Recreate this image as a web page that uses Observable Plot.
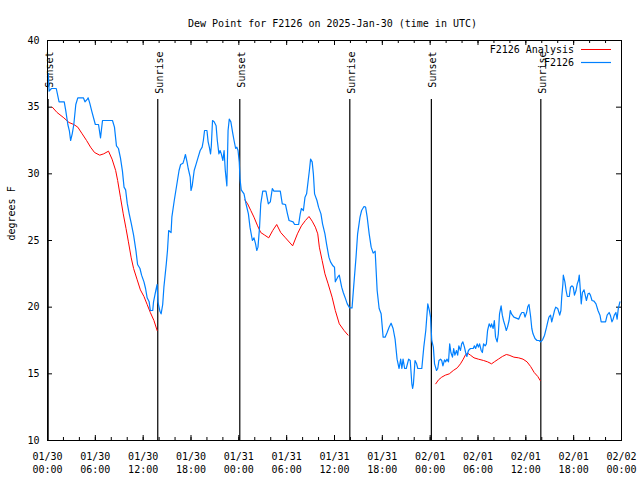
<!DOCTYPE html>
<html><head><meta charset="utf-8">
<script src="https://cdn.jsdelivr.net/npm/d3@7"></script>
<script src="https://cdn.jsdelivr.net/npm/@observablehq/plot@0.6"></script>
<style>body{margin:0;background:#fff;} svg{display:block}</style>
</head><body><div id="chart"></div>
<script>
const title = "Dew Point for F2126 on 2025-Jan-30 (time in UTC)";
const yLabel = "degrees F";
const startUTC = "2025-01-30T00:00:00Z";
const endUTC = "2025-02-02T00:00:00Z";
const yTickValues = [10, 15, 20, 25, 30, 35, 40];
const seriesNames = ["F2126 Analysis", "F2126"];
const seriesColors = ["#ff0000", "#0080ff"];

// Sun events (hours after start)
const sunHours = [0.08, 13.83, 24.12, 37.92, 48.15, 61.88];
const sunLabels = ["Sunset", "Sunrise", "Sunset", "Sunrise", "Sunset", "Sunrise"];

// F2126 observations (hours after start, degrees F)
const obsHours = [0.1,0.2,0.5,1.1,1.45,2.1,2.3,2.55,2.75,2.9,3.1,3.3,3.55,3.8,4.5,4.7,5.0,5.1,5.3,5.55,6.0,6.4,6.65,6.9,8.15,8.4,8.65,8.9,9.15,9.4,9.6,9.8,10.0,10.25,10.5,10.8,11.1,11.3,11.6,11.8,12.1,12.3,12.5,12.75,12.9,13.2,13.3,13.6,13.75,13.85,14.1,14.25,14.45,14.6,14.9,15.05,15.2,15.5,15.6,15.9,16.1,16.3,16.5,16.7,17.0,17.15,17.3,17.5,17.65,17.9,18.0,18.15,18.4,18.65,18.9,19.15,19.4,19.55,19.7,20.0,20.15,20.3,20.45,20.55,20.7,20.9,21.15,21.3,21.5,21.65,21.8,22.0,22.15,22.3,22.5,22.65,22.8,23.0,23.25,23.4,23.6,23.75,23.9,24.05,24.15,24.3,24.65,24.9,25.2,25.4,25.7,25.9,26.1,26.25,26.4,26.6,26.75,27.0,27.4,27.7,27.95,28.2,28.4,29.2,29.45,29.85,30.1,30.3,30.8,31.0,31.5,31.7,31.85,32.1,32.3,32.5,32.7,32.85,33.0,33.2,33.35,33.5,33.8,34.0,34.3,34.5,34.8,35.0,35.3,35.5,35.8,36.0,36.1,36.4,36.6,36.9,37.1,37.4,37.6,37.9,38.2,38.4,38.7,38.9,39.2,39.4,39.7,39.9,40.1,40.35,40.6,40.85,41.1,41.35,41.6,41.85,42.1,42.35,42.6,42.85,43.1,43.35,43.6,43.85,44.1,44.3,44.45,44.6,44.8,45.0,45.3,45.5,45.7,45.8,45.9,46.1,46.3,46.45,46.95,47.2,47.45,47.7,47.9,48.05,48.2,48.4,48.55,48.8,48.95,49.1,49.3,49.45,49.6,49.8,49.95,50.1,50.3,50.45,50.6,50.8,50.95,51.1,51.3,51.45,51.6,51.8,51.95,52.1,52.3,52.45,52.6,52.8,53.05,53.4,53.55,53.7,53.9,54.05,54.2,54.4,54.55,54.7,54.9,55.05,55.2,55.4,55.6,55.7,55.9,56.05,56.2,56.4,56.55,56.7,56.9,57.05,57.2,57.4,57.55,57.7,57.9,58.05,58.2,58.5,59.1,59.3,59.5,59.75,59.9,60.1,60.25,60.4,60.6,60.75,60.9,61.15,61.4,61.65,61.85,62.1,62.35,62.6,62.75,62.9,63.1,63.25,63.4,63.6,63.75,64.0,64.25,64.4,64.5,64.65,64.7,64.9,65.05,65.2,65.45,65.6,65.8,65.95,66.1,66.3,66.45,66.6,66.7,66.8,66.95,67.1,67.3,67.45,67.6,67.8,67.95,68.1,68.3,68.55,68.8,69.05,69.3,69.45,70.0,70.2,70.45,70.6,70.8,70.95,71.1,71.3,71.45,71.6,71.8];
const obsValues = [37.5,36.2,36.4,36.4,35.4,35.4,34.7,33.7,33.2,32.5,33.0,33.7,35.2,35.7,35.7,35.4,35.6,35.7,35.3,34.7,33.7,33.7,32.7,34.0,34.0,33.5,32.1,31.9,31.2,30.2,29.0,28.8,27.8,27.0,26.3,25.4,24.2,23.2,22.9,22.4,21.9,21.4,20.7,20.4,19.75,19.75,20.4,21.3,21.7,20.4,19.7,19.5,20.2,21.5,23.25,24.25,25.75,25.6,26.75,28.0,28.75,29.5,30.25,30.7,30.8,31.1,31.45,30.9,30.4,29.75,28.75,29.1,30.25,30.75,31.25,31.75,32.0,32.5,33.25,33.25,32.4,32.0,31.5,32.1,34.0,33.9,33.6,32.5,31.5,31.75,31.5,31.0,31.75,30.25,29.1,33.25,34.1,33.9,33.0,32.5,31.9,32.0,31.75,30.9,29.6,28.8,28.5,27.75,27.0,26.0,25.0,25.2,24.75,24.25,24.5,26.0,27.75,28.7,28.7,27.75,27.9,28.9,28.7,28.7,27.75,27.7,27.0,26.5,26.4,26.2,26.2,27.0,27.4,27.25,28.25,28.5,29.5,30.25,31.1,30.9,30.0,28.5,28.0,27.5,27.0,26.25,25.5,24.75,23.75,23.4,23.1,23.0,21.9,22.25,22.4,21.5,21.1,20.6,20.25,19.95,19.95,21.5,23.75,25.5,26.75,27.25,27.55,27.5,26.75,25.5,24.5,24.05,24.2,21.25,19.9,19.5,17.75,17.75,18.1,18.5,18.8,18.4,17.6,16.1,15.4,16.1,15.4,16.1,15.4,15.4,16.1,16.0,14.25,13.9,14.25,16.0,15.75,15.4,15.4,17.0,18.25,20.25,19.75,19.25,17.5,17.0,15.75,15.25,15.4,16.0,16.1,16.0,15.6,16.05,15.9,16.1,15.9,17.25,16.6,16.25,16.9,16.4,16.75,16.4,17.1,16.75,17.25,17.4,17.0,16.6,16.3,16.75,16.9,16.9,17.1,16.9,17.25,17.0,17.25,16.75,16.6,17.25,17.1,17.25,18.25,18.75,18.5,18.75,18.4,19.0,17.75,17.4,18.0,19.5,20.1,19.4,19.0,18.6,18.25,18.5,19.0,19.75,19.5,19.25,19.1,19.4,19.6,19.6,19.25,19.6,20.05,20.2,19.3,18.4,18.0,17.65,17.5,17.5,17.4,17.55,17.9,18.5,18.9,19.25,19.4,18.9,19.25,19.75,20.0,19.9,19.4,19.75,20.75,21.75,22.4,21.9,21.25,20.8,20.8,21.5,21.6,21.5,20.9,21.25,21.75,22.0,22.4,21.6,20.25,21.1,21.3,20.9,20.5,21.0,21.05,20.9,20.5,20.45,20.25,19.75,19.4,18.9,18.9,19.4,19.6,19.4,18.9,19.1,19.4,19.6,19.1,19.9,20.4];

// F2126 Analysis (three daytime runs)
const anaRun = [1,1,1,1,1,1,1,1,1,1,1,1,1,1,1,1,1,1,1,1,1,1,1,1,1,1,1,1,1,
                2,2,2,2,2,2,2,2,2,2,2,2,2,2,2,2,2,2,2,2,2,2,2,2,2,2,2,2,2,
                3,3,3,3,3,3,3,3,3,3,3,3,3,3,3,3,3,3,3,3,3,3,3,3,3,3,3,3,3,3];
const anaHours = [0.6,1.2,2.05,2.7,3.3,3.8,4.35,4.9,5.4,5.9,6.55,7.05,7.65,8.1,8.55,8.8,9.15,9.5,9.85,10.15,10.5,10.8,11.25,11.65,12.1,12.5,12.9,13.35,13.75,
                  24.75,25.1,25.5,25.9,26.35,26.75,27.25,27.75,28.25,28.75,29.25,29.85,30.75,31.35,31.85,32.35,32.8,33.2,33.6,33.9,34.1,34.45,34.8,35.2,35.7,36.1,36.6,37.2,37.7,
                  48.7,49.05,49.45,49.9,50.4,50.9,51.4,51.8,52.15,52.45,52.7,53.05,53.5,54.05,54.7,55.2,55.7,56.05,56.55,57.05,57.55,57.9,58.5,59.1,59.65,60.15,60.6,61.05,61.5,61.8];
const anaValues = [35.0,34.6,34.2,33.85,33.7,33.5,33.0,32.5,32.0,31.6,31.4,31.5,31.7,31.1,30.25,29.5,28.25,27.0,25.9,24.9,23.7,22.9,22.05,21.3,20.8,20.2,19.6,19.0,18.25,
                   28.05,27.75,27.25,26.75,26.1,25.6,25.4,25.2,25.75,26.2,25.6,25.2,24.6,25.5,26.1,26.5,26.8,26.45,26.0,25.5,24.5,23.5,22.5,21.75,20.75,19.75,18.75,18.25,17.9,
                   14.25,14.55,14.75,14.9,15.0,15.25,15.45,15.75,16.1,16.45,16.55,16.4,16.2,16.1,16.0,15.9,15.75,15.9,16.1,16.3,16.45,16.4,16.25,16.2,16.1,15.9,15.55,15.1,14.8,14.5];

const t0 = new Date(startUTC), t1 = new Date(endUTC);
const at = h => new Date(+t0 + h * 3600e3);
const obs = obsHours.map((h, i) => ({t: at(h), v: obsValues[i]}));
const ana = anaHours.map((h, i) => ({t: at(h), v: anaValues[i], run: anaRun[i]}));
const sun = sunHours.map((h, i) => ({t: at(h), label: sunLabels[i]}));

const FONT = "DejaVu Sans Mono";
const W = 640, H = 480, ML = 47, MR = 19, MT = 40, MB = 40;
const PW = W - ML - MR, PH = H - MT - MB;
const majorX = d3.utcHour.every(6).range(t0, new Date(+t1 + 1));
const minorX = d3.utcHour.every(2).range(t0, new Date(+t1 + 1));
const fmt = d3.utcFormat("%m/%d\n%H:%M");

const chart = Plot.plot({
  width: W, height: H,
  marginLeft: ML, marginRight: MR, marginTop: MT, marginBottom: MB,
  style: {fontFamily: FONT, fontSize: "10px", background: "white", color: "black"},
  x: {type: "utc", domain: [t0, t1]},
  y: {domain: [10, 40]},
  marks: [
    Plot.axisX(majorX, {tickSize: 0, tickPadding: 10, tickFormat: fmt, lineHeight: 1.3, label: null}),
    Plot.axisY(yTickValues, {tickSize: 0, tickPadding: 8, label: null}),
    // inward ticks
    Plot.ruleX(minorX, {insetTop: PH - 3, stroke: "black"}),
    Plot.ruleX(minorX, {insetBottom: PH - 3, stroke: "black"}),
    Plot.ruleX(majorX, {insetTop: PH - 5, stroke: "black"}),
    Plot.ruleX(majorX, {insetBottom: PH - 5, stroke: "black"}),
    Plot.ruleY(yTickValues, {insetRight: PW - 5, stroke: "black"}),
    Plot.ruleY(yTickValues, {insetLeft: PW - 5, stroke: "black"}),
    // sun events
    Plot.ruleX(sun, {x: "t", insetTop: 59, stroke: "black", strokeWidth: 1.2}),
    Plot.text(sun, {x: "t", text: "label", frameAnchor: "top", rotate: -90, textAnchor: "end", dy: 11, dx: -2, fill: "black"}),
    // data
    Plot.line(ana, {x: "t", y: "v", z: "run", stroke: seriesColors[0], strokeWidth: 1}),
    Plot.line(obs, {x: "t", y: "v", stroke: seriesColors[1], strokeWidth: 1.2}),
    Plot.frame({stroke: "black"}),
    Plot.text([title], {frameAnchor: "top", dy: -21, dx: -2, fill: "black"}),
    Plot.text([yLabel], {frameAnchor: "left", rotate: -90, dx: -36, fill: "black"})
  ]
});
document.getElementById("chart").appendChild(chart);

// legend inside top-right
const svg = d3.select(chart);
const lg = svg.append("g").attr("font-family", FONT).attr("font-size", 10);
seriesNames.forEach((name, i) => {
  const y = 49.5 + i * 13;
  lg.append("text").attr("x", 574).attr("y", y).attr("dy", "0.32em")
    .attr("text-anchor", "end").attr("fill", "black").text(name);
  lg.append("line").attr("x1", 581).attr("x2", 611).attr("y1", y).attr("y2", y)
    .attr("stroke", seriesColors[i]).attr("stroke-width", i ? 1.2 : 1);
});
</script>
</body></html>
